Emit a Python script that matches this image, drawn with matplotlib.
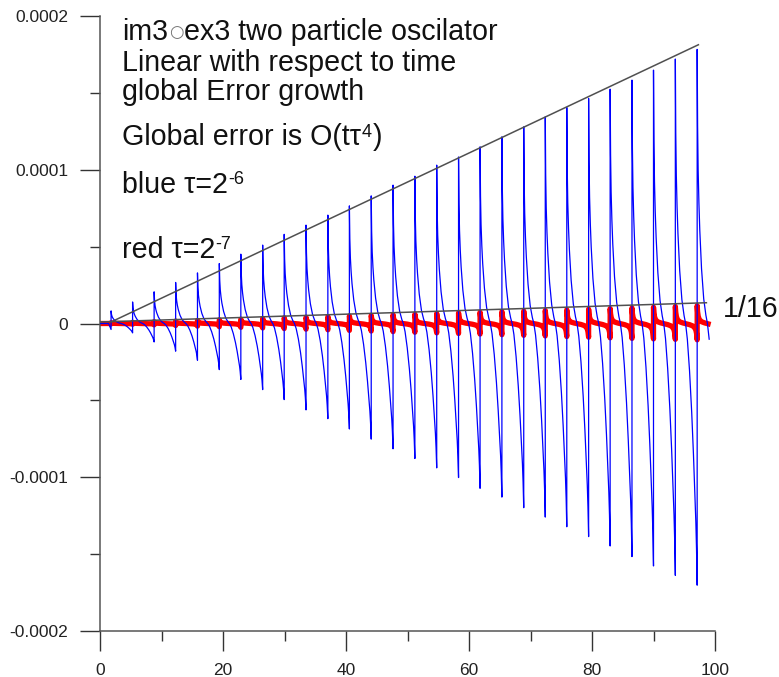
import numpy as np
import matplotlib
matplotlib.use("Agg")
import matplotlib.pyplot as plt
from matplotlib.ticker import MultipleLocator, FuncFormatter

plt.rcParams["font.family"] = ["Liberation Sans", "DejaVu Sans"]

# ── values (y in units of 1e-5) ─────────────────────────────────────────────
SPIKE_X = [1.8, 5.3, 8.8, 12.3, 15.85, 19.4, 22.9, 26.45, 29.95, 33.5,
           37.05, 40.55, 44.1, 47.65, 51.2, 54.75, 58.3, 61.8, 65.35, 68.9,
           72.4, 75.9, 79.45, 82.95, 86.5, 90.0, 93.55, 97.1]

BLUE_PEAK = [0.82, 1.40, 2.06, 2.67, 3.29, 3.90, 4.51, 5.10, 5.80, 6.40,
             7.05, 7.65, 8.30, 9.00, 9.58, 10.30, 10.83, 11.49, 12.14, 12.79,
             13.44, 14.05, 14.64, 15.24, 15.83, 16.48, 17.20, 17.83]
BLUE_TROUGH = [-0.39, -0.61, -1.20, -1.80, -2.39, -3.00, -3.64, -4.30, -4.95,
               -5.62, -6.19, -6.86, -7.52, -8.15, -8.78, -9.39, -10.02, -10.72,
               -11.29, -11.98, -12.59, -13.22, -13.86, -14.47, -15.16, -15.77,
               -16.38, -17.02]

RED_PEAK = [0.05, 0.08, 0.12, 0.16, 0.20, 0.24, 0.28, 0.33, 0.37, 0.41,
            0.45, 0.49, 0.53, 0.57, 0.61, 0.65, 0.69, 0.73, 0.77, 0.81,
            0.85, 0.89, 0.93, 0.97, 1.01, 1.06, 1.11, 1.16]
RED_TROUGH = [-0.03, -0.05, -0.09, -0.13, -0.17, -0.21, -0.25, -0.29, -0.33,
              -0.37, -0.41, -0.45, -0.49, -0.53, -0.57, -0.61, -0.65, -0.69,
              -0.73, -0.77, -0.81, -0.85, -0.89, -0.93, -0.97, -1.00, -1.03,
              -1.06]

# shape of one period (fraction of period, share of peak / trough)
BLUE_SHAPE_F = [0.0, 0.02, 0.045, 0.08, 0.12, 0.2, 0.3, 0.4, 0.47, 0.55,
                0.65, 0.75, 0.83, 0.89, 0.94, 0.97]
BLUE_SHAPE_V = [1.0, 0.72, 0.56, 0.44, 0.34, 0.2, 0.09, 0.03, 0.0, -0.06,
                -0.18, -0.34, -0.5, -0.64, -0.76, -0.86]
RED_SHAPE_F = [0.0, 0.02, 0.05, 0.1, 0.2, 0.35, 0.5, 0.65, 0.8, 0.88, 0.94, 0.97]
RED_SHAPE_V = [1.0, 0.65, 0.4, 0.22, 0.1, 0.03, -0.02, -0.07, -0.15, -0.25,
               -0.4, -0.6]

CURVE_END = 99.3

ENVELOPE_X = [1.8, 97.3]
ENVELOPE_Y = [0.1, 18.13]
SIXTEENTH_X = [0.0, 98.6]
SIXTEENTH_Y = [0.1, 1.35]


def build_curve(peaks, troughs, shape_f, shape_v):
    xs = [0.0, SPIKE_X[0] - 0.4]
    ys = [0.0, 0.0]
    n = len(SPIKE_X)
    for k, x0 in enumerate(SPIKE_X):
        last = k == n - 1
        period = (x0 - SPIKE_X[k - 1]) if last else (SPIKE_X[k + 1] - x0)
        depth = -troughs[k] if last else -troughs[k + 1]
        xs.append(x0)
        ys.append(troughs[k])
        for f, v in zip(shape_f, shape_v):
            xx = x0 + f * period
            if xx > CURVE_END:
                break
            xs.append(xx)
            ys.append(v * peaks[k] if v >= 0 else v * depth)
    return np.array(xs), np.array(ys) * 1e-5


W, H = 779, 677
fig = plt.figure(figsize=(W / 100, H / 100), dpi=100)
ax = fig.add_axes([100 / W, 1 - 631 / H, 615 / W, 615 / H])

rx, ry = build_curve(RED_PEAK, RED_TROUGH, RED_SHAPE_F, RED_SHAPE_V)
bx, by = build_curve(BLUE_PEAK, BLUE_TROUGH, BLUE_SHAPE_F, BLUE_SHAPE_V)

ax.plot(rx, ry, color="#ff0000", lw=3.8, solid_joinstyle="round", zorder=2)
ax.plot(bx, by, color="#0000ff", lw=0.9, zorder=3)
ax.plot(ENVELOPE_X, np.array(ENVELOPE_Y) * 1e-5, color="#505050", lw=1.1, zorder=4)
ax.plot(SIXTEENTH_X, np.array(SIXTEENTH_Y) * 1e-5, color="#505050", lw=1.1, zorder=4)

ax.set_xlim(0, 100)
ax.set_ylim(-0.0002, 0.0002)
for s in ("top", "right"):
    ax.spines[s].set_visible(False)
for s in ("left", "bottom"):
    ax.spines[s].set_color("#555555")
    ax.spines[s].set_linewidth(1.1)

ax.xaxis.set_major_locator(MultipleLocator(20))
ax.xaxis.set_minor_locator(MultipleLocator(10))
ax.yaxis.set_major_locator(MultipleLocator(0.0001))
ax.yaxis.set_minor_locator(MultipleLocator(0.00005))
ax.yaxis.set_major_formatter(FuncFormatter(lambda v, _: "0" if abs(v) < 1e-12 else f"{v:.4f}"))
ax.tick_params(which="major", direction="out", length=14.4, width=1.0,
               color="#333333", pad=8.6, labelsize=12.5, labelcolor="#222222")
ax.tick_params(which="minor", direction="out", length=7.2, width=1.0, color="#333333")

FS = 20.6
SUP = 13
INK = "#111111"


def ftext(px, py, s, **kw):
    return fig.text(px / W, 1 - py / H, s, fontsize=kw.pop("fontsize", FS),
                    va="baseline", ha="left", color=INK, **kw)


def after(prev, s, dx=0, dy=0, size=FS, **kw):
    return ax.annotate(s, xy=(1, 0), xycoords=prev, xytext=(dx, dy),
                       textcoords="offset pixels", fontsize=size, color=kw.pop("color", INK),
                       va="bottom", ha="left", **kw)


t1 = ftext(122, 40, "im3")
after(t1, "\u25cb", dx=1, dy=5, size=12, family="DejaVu Sans", color="#777777")
after(t1, "ex3 two particle oscilator", dx=16)
ftext(122, 71, "Linear with respect to time")
ftext(122, 100, "global Error growth")
t4 = ftext(122, 145, "Global error is O(t\u03c4")
t4s = after(t4, "4", dx=1, dy=10, size=SUP)
after(t4s, ")", dx=1, dy=-10)
t5 = ftext(122, 193, "blue \u03c4=2")
after(t5, "-6", dx=0, dy=11, size=SUP)
t6 = ftext(122, 258, "red \u03c4=2")
after(t6, "-7", dx=0, dy=11, size=SUP)
ftext(723, 317, "1/16")

fig.savefig("out.png", dpi=100)
